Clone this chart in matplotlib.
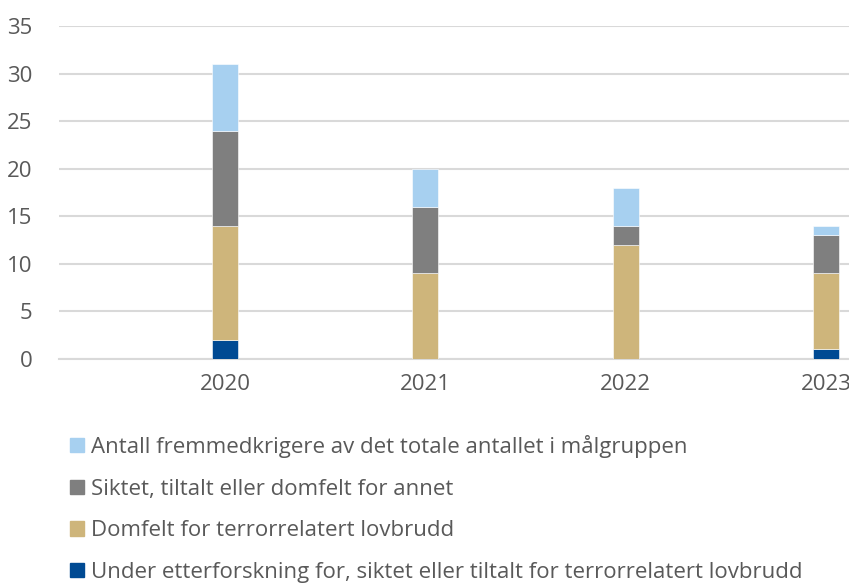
import matplotlib.pyplot as plt
from matplotlib.patches import Patch

plt.rcParams['font.family'] = ['Open Sans', 'DejaVu Sans']

years = ['2020', '2021', '2022', '2023']
etterforskning = [2, 0, 0, 1]
domfelt_terror = [12, 9, 12, 8]
annet = [10, 7, 2, 4]
fremmedkrigere = [7, 4, 4, 1]

labels = [
    'Under etterforskning for, siktet eller tiltalt for terrorrelatert lovbrudd',
    'Domfelt for terrorrelatert lovbrudd',
    'Siktet, tiltalt eller domfelt for annet',
    'Antall fremmedkrigere av det totale antallet i målgruppen',
]
colors = ['#004A93', '#CEB57B', '#7F7F7F', '#A7D0F0']
text_col = '#595959'

fig = plt.figure(figsize=(8.49, 5.83), dpi=100)
ax = fig.add_axes([59 / 849, 224 / 583, 790 / 849, 333 / 583])

x = range(len(years))
bunn = [0] * len(years)
for serie, farge in zip([etterforskning, domfelt_terror, annet, fremmedkrigere], colors):
    ax.bar(x, serie, width=0.13, bottom=bunn, color=farge, edgecolor='white', linewidth=0.4, zorder=3)
    bunn = [b + v for b, v in zip(bunn, serie)]

ax.set_ylim(0, 35)
ax.set_xlim(-0.83, 3.115)
ax.set_yticks(range(0, 36, 5))
ax.set_xticks(list(x))
ax.set_xticklabels(years)
ax.grid(axis='y', color='#D9D9D9', linewidth=1.5, zorder=0)
for s in ['top', 'right', 'left']:
    ax.spines[s].set_visible(False)
ax.spines['bottom'].set_color('#D9D9D9')
ax.spines['bottom'].set_linewidth(1.5)
ax.tick_params(axis='both', length=0, labelsize=16, colors=text_col)
ax.tick_params(axis='y', pad=19)
ax.tick_params(axis='x', pad=11)

handles = [Patch(color=c) for c in colors][::-1]
leg = fig.legend(handles, labels[::-1], loc='upper left', bbox_to_anchor=(70 / 849, 1 - 435 / 583),
                 frameon=False, fontsize=16, handlelength=0.63, handleheight=0.63,
                 handletextpad=0.3, labelspacing=0.93, borderpad=0, borderaxespad=0)
for t in leg.get_texts():
    t.set_color(text_col)

fig.savefig('out.png', dpi=100)
